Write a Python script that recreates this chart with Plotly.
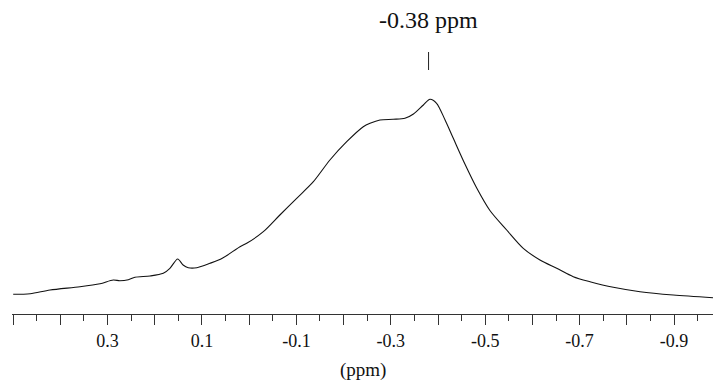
import plotly.graph_objects as go

# chemical shift (ppm) and intensity (arbitrary units)
ppm = [0.500, 0.464, 0.422, 0.3585, 0.316, 0.288, 0.274, 0.256, 0.242, 0.210,
       0.182, 0.168, 0.1515, 0.140, 0.129, 0.111, 0.083, 0.057, 0.0195, 0.0053,
       -0.030, -0.065, -0.1006, -0.136, -0.171, -0.2066, -0.2417, -0.256, -0.277,
       -0.305, -0.330, -0.348, -0.369, -0.383, -0.397, -0.415, -0.4324, -0.457,
       -0.482, -0.510, -0.5455, -0.5807, -0.616, -0.6515, -0.6866,
       -0.722, -0.7714, -0.828, -0.8985, -0.9826]
intensity = [19.7, 20.3, 24.0, 27.3, 30.3, 34.0, 33.3, 34.3, 36.7, 38.0,
             40.7, 45.7, 55.0, 49.0, 46.3, 46.3, 50.7, 55.7, 67.3, 70.7,
             82.3, 99.0, 115.7, 132.3, 154.0, 172.3, 187.3, 190.7, 194.0,
             194.7, 195.7, 200.0, 209.0, 214.7, 210.7, 194.0, 175.7, 150.0,
             126.0, 103.5, 84.0, 65.7, 54.0, 45.7, 37.3,
             32.3, 26.7, 22.3, 19.0, 16.3]

tick_vals = [0.5, 0.4, 0.3, 0.2, 0.1, 0.0, -0.1, -0.2, -0.3, -0.4, -0.5,
             -0.6, -0.7, -0.8, -0.9]
tick_text = ["", "", "0.3", "", "0.1", "", "-0.1", "", "-0.3", "", "-0.5",
             "", "-0.7", "", "-0.9"]
peak_ppm = -0.38
peak_label = "-0.38 ppm"
axis_title = "(ppm)"

serif = "Liberation Serif"

fig = go.Figure()
fig.add_trace(go.Scatter(
    x=ppm, y=intensity, mode="lines",
    line=dict(color="#111111", width=1.1, shape="spline", smoothing=0.8),
    hoverinfo="skip", showlegend=False,
))

fig.add_shape(type="line", xref="x", yref="paper",
              x0=peak_ppm, x1=peak_ppm, y0=(314 - 52) / 314, y1=(314 - 70) / 314,
              line=dict(color="#222222", width=1))
fig.add_annotation(x=peak_ppm, xref="x", y=(314 - 20) / 314, yref="paper",
                   text=peak_label, showarrow=False, yanchor="middle",
                   xanchor="center",
                   font=dict(family=serif, size=24, color="#111111"))
fig.add_annotation(x=0.5, xref="paper", y=(314 - 370) / 314, yref="paper",
                   text=axis_title, showarrow=False, yanchor="middle",
                   xanchor="center",
                   font=dict(family=serif, size=19, color="#111111"))

fig.update_layout(
    width=713, height=380,
    margin=dict(l=12, r=0, t=0, b=66),
    paper_bgcolor="white", plot_bgcolor="white",
    xaxis=dict(
        range=[0.5025, -0.9826], showgrid=False, zeroline=False,
        showline=True, linecolor="#333333", linewidth=1,
        ticks="outside", ticklen=10, tickwidth=1, tickcolor="#333333",
        tickmode="array", tickvals=tick_vals, ticktext=tick_text,
        tickfont=dict(family=serif, size=18, color="#111111"),
        minor=dict(ticks="outside", ticklen=6, tickwidth=1,
                   tickcolor="#333333", dtick=0.05, tick0=0.05, showgrid=False),
    ),
    yaxis=dict(range=[0, 314], visible=False, showgrid=False, zeroline=False),
)

fig.write_html("out.html")
